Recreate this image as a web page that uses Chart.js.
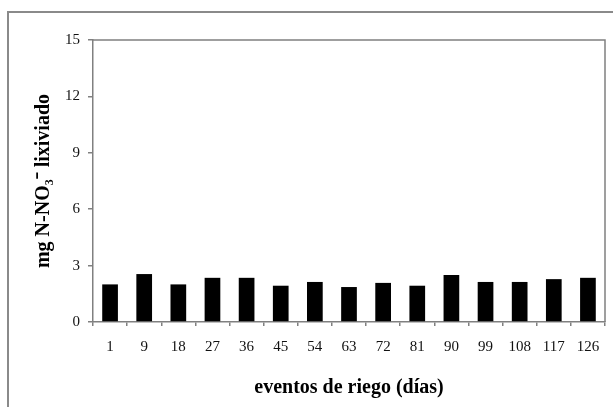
<!DOCTYPE html>
<html>
<head>
<meta charset="utf-8">
<script src="https://cdn.jsdelivr.net/npm/chart.js@4/dist/chart.umd.min.js"></script>
<style>
  html, body { margin: 0; padding: 0; background: #fff; overflow: hidden; }
  #wrap { position: relative; width: 613px; height: 407px; }
  #frame { position: absolute; left: 7px; top: 11px; width: 700px; height: 500px;
           border-left: 2px solid #8a8a8a; border-top: 2px solid #8a8a8a; }
  #myChart { position: absolute; left: 0; top: 0; }
</style>
</head>
<body>
<div id="wrap">
  <div id="frame"></div>
  <canvas id="myChart" width="613" height="407"></canvas>
</div>
<script>
// riego events (days) and leached nitrate
const dias = ['1', '9', '18', '27', '36', '45', '54', '63', '72', '81', '90', '99', '108', '117', '126'];
const lixiviado = [2.0, 2.55, 2.0, 2.35, 2.35, 1.93, 2.13, 1.86, 2.08, 1.93, 2.5, 2.13, 2.13, 2.28, 2.35];
const yTicks = [0, 3, 6, 9, 12, 15];

const axisGray = '#808080';
const serif = "'Liberation Serif', 'Times New Roman', serif";

document.addEventListener("DOMContentLoaded", () => {
    const ctx = document.getElementById('myChart').getContext('2d');

    // box line on top and right of the plot area
    const plotBox = {
        id: 'plotBox',
        afterDraw: (chart) => {
            const a = chart.chartArea;
            const c = chart.ctx;
            c.save();
            c.strokeStyle = axisGray;
            c.lineWidth = 1.5;
            c.beginPath();
            c.moveTo(a.left, a.top);
            c.lineTo(a.right, a.top);
            c.lineTo(a.right, a.bottom);
            c.stroke();
            c.restore();
        }
    };

    const config = {
        type: 'bar',
        data: {
            labels: dias,
            datasets: [{
                data: lixiviado,
                backgroundColor: '#000',
                borderWidth: 0,
                categoryPercentage: 1,
                barPercentage: 0.46
            }]
        },
        options: {
            responsive: false,
            animation: false,
            layout: { padding: { top: 40, right: 8, left: 0, bottom: 0 } },
            plugins: {
                legend: { display: false },
                tooltip: { enabled: false }
            },
            scales: {
                x: {
                    grid: { drawOnChartArea: false, drawTicks: true, tickLength: 4, color: axisGray, lineWidth: 1.5 },
                    border: { display: true, color: axisGray, width: 1.5 },
                    ticks: { color: '#111', padding: 12, maxRotation: 0, font: { family: serif, size: 15 } },
                    title: {
                        display: true,
                        text: 'eventos de riego (días)',
                        color: '#000',
                        padding: { top: 0, bottom: 7 },
                        font: { family: serif, size: 20, weight: 'bold' }
                    },
                    afterFit: (scale) => { scale.height = 85; }
                },
                y: {
                    min: 0,
                    max: 15,
                    afterBuildTicks: (scale) => { scale.ticks = yTicks.map(v => ({ value: v })); },
                    grid: { drawOnChartArea: false, drawTicks: true, tickLength: 5, color: axisGray, lineWidth: 1.5 },
                    border: { display: true, color: axisGray, width: 1.5 },
                    ticks: { color: '#111', padding: 8, font: { family: serif, size: 15 } },
                    title: {
                        display: true,
                        text: 'mg N-NO₃⁻ lixiviado',
                        color: '#000',
                        padding: { top: 32, bottom: 0 },
                        font: { family: serif, size: 20, weight: 'bold' }
                    },
                    afterFit: (scale) => { scale.width = 93; }
                }
            }
        },
        plugins: [plotBox]
    };

    const myChart = new Chart(ctx, config);
});
</script>
</body>
</html>
